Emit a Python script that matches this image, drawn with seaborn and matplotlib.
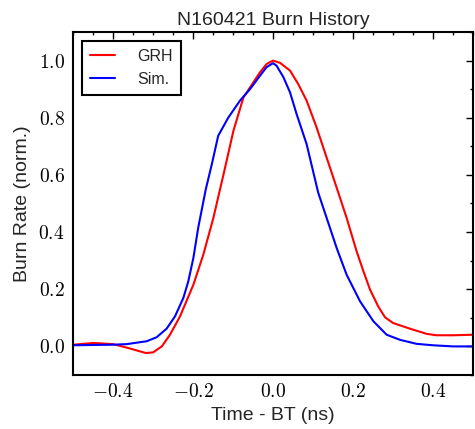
import numpy as np
import pandas as pd
import matplotlib
matplotlib.use("Agg")
import matplotlib.pyplot as plt
from matplotlib.ticker import MultipleLocator, FuncFormatter
import seaborn as sns

grh_t = [-0.50, -0.449, -0.40, -0.366, -0.318, -0.30, -0.278, -0.2575, -0.2325, -0.199,
         -0.174, -0.149, -0.124, -0.099, -0.074, -0.0575, -0.0325, -0.016, 0.0, 0.0175,
         0.0425, 0.063, 0.084, 0.109, 0.134, 0.159, 0.184, 0.209, 0.226, 0.2425,
         0.263, 0.28, 0.30, 0.3425, 0.384, 0.409, 0.451, 0.50]
grh_v = [0.006, 0.012, 0.008, -0.004, -0.023, -0.021, 0.0, 0.041, 0.105, 0.216,
         0.322, 0.45, 0.60, 0.754, 0.871, 0.906, 0.959, 0.988, 1.0, 0.992,
         0.965, 0.918, 0.86, 0.766, 0.661, 0.556, 0.45, 0.333, 0.263, 0.199,
         0.140, 0.102, 0.082, 0.062, 0.044, 0.039, 0.039, 0.041]

sim_t = [-0.50, -0.40, -0.366, -0.316, -0.291, -0.266, -0.245, -0.224, -0.2117, -0.199,
         -0.187, -0.168, -0.153, -0.137, -0.112, -0.0825, -0.0575, -0.0325, -0.016, 0.0,
         0.009, 0.026, 0.0425, 0.059, 0.084, 0.113, 0.134, 0.159, 0.184, 0.2175,
         0.251, 0.284, 0.3175, 0.359, 0.40, 0.451, 0.50]
sim_v = [0.004, 0.006, 0.008, 0.018, 0.032, 0.062, 0.105, 0.17, 0.228, 0.31,
         0.415, 0.55, 0.637, 0.737, 0.80, 0.86, 0.90, 0.947, 0.977, 0.991,
         0.982, 0.942, 0.889, 0.813, 0.708, 0.538, 0.45, 0.345, 0.251, 0.158,
         0.088, 0.041, 0.023, 0.009, 0.004, 0.0, 0.0]

df = pd.concat([
    pd.DataFrame({"t": grh_t, "v": grh_v, "src": "GRH"}),
    pd.DataFrame({"t": sim_t, "v": sim_v, "src": "Sim."}),
])

sns.set_style("white")
plt.rcParams["font.family"] = ["Liberation Sans", "DejaVu Sans"]
plt.rcParams["mathtext.fontset"] = "cm"

fig = plt.figure(figsize=(4.75, 4.29), dpi=100)
ax = fig.add_axes([73/475, 54/429, 400/475, 343/429])
sns.lineplot(data=df, x="t", y="v", hue="src", palette={"GRH": "#ff0000", "Sim.": "#0000ff"},
             linewidth=1.5, ax=ax, sort=False, estimator=None)

ax.set_xlim(-0.5, 0.5)
ax.set_ylim(-0.1, 1.1)
ax.xaxis.set_major_locator(MultipleLocator(0.2))
ax.xaxis.set_minor_locator(MultipleLocator(0.05))
ax.yaxis.set_major_locator(MultipleLocator(0.2))
ax.yaxis.set_minor_locator(MultipleLocator(0.1))
fmt = FuncFormatter(lambda v, p: r"$%.1f$" % (0.0 if abs(v) < 1e-9 else v))
ax.xaxis.set_major_formatter(fmt)
ax.yaxis.set_major_formatter(fmt)
ax.tick_params(which="both", direction="in", top=True, right=True, colors="black", labelsize=14)
ax.tick_params(which="major", length=5, width=1, pad=6)
ax.tick_params(which="minor", length=2.5, width=1)
for s in ax.spines.values():
    s.set_color("black")
    s.set_linewidth(1.5)

ax.set_title("N160421 Burn History", fontsize=14, pad=5)
ax.set_xlabel("Time - BT (ns)", fontsize=14, labelpad=4)
ax.set_ylabel("Burn Rate (norm.)", fontsize=14, labelpad=5)

leg = ax.legend(loc="upper left", fancybox=False, edgecolor="black", fontsize=11.5,
                handlelength=1.55, borderaxespad=0.55, handletextpad=1.45,
                labelspacing=0.5, borderpad=0.5)
leg.set_title(None)
leg.get_frame().set_linewidth(1.5)
leg.get_frame().set_alpha(1)

fig.savefig("out.png", dpi=100)
